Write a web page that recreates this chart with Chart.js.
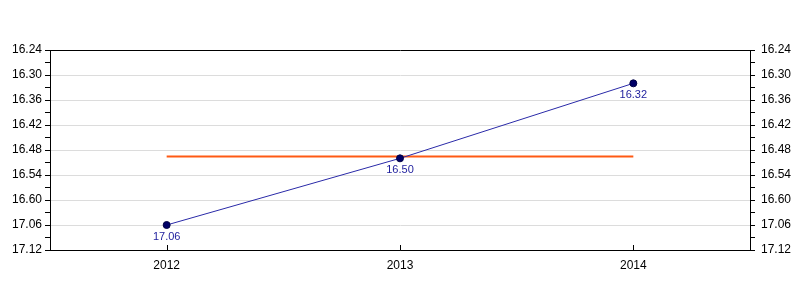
<!DOCTYPE html>
<html><head><meta charset="utf-8">
<script src="https://cdn.jsdelivr.net/npm/chart.js@4/dist/chart.umd.min.js"></script>
<style>html,body{margin:0;padding:0;background:#fff}canvas{display:block}</style>
</head><body>
<canvas id="c" width="800" height="300"></canvas>
<script>
const categories = ['2012', '2013', '2014'];
const seriesValues = [17.06, 16.50, 16.32];   // minutes.seconds
const averageValue = 16.4958;                  // orange reference line
const tickLabels = ['16.24','16.30','16.36','16.42','16.48','16.54','16.60','17.06','17.12'];

// convert minutes.seconds to axis units (index of 6-second ticks from 16.24)
function toSec(v){ const m = Math.floor(v + 1e-9); return m*60 + (v - m)*100; }
const baseSec = toSec(16.24);
function toAxis(v){ return (toSec(v) - baseSec) / 6; }

const FONT = {family: 'Arial, "Liberation Sans", sans-serif', size: 12};

const labelPlugin = {
  id: 'lbl',
  afterDatasetsDraw(chart){
    const ctx = chart.ctx;
    const meta = chart.getDatasetMeta(0);
    ctx.save();
    ctx.font = '11px Arial, "Liberation Sans", sans-serif';
    ctx.fillStyle = '#1c1c9c';
    ctx.textAlign = 'center';
    ctx.textBaseline = 'top';
    meta.data.forEach((p,i)=>{
      ctx.fillText(seriesValues[i].toFixed(2), p.x, p.y + 6);
    });
    // inward x ticks
    const xs = chart.scales.x, a = chart.chartArea;
    ctx.strokeStyle = '#000'; ctx.lineWidth = 1;
    categories.forEach((c,i)=>{
      const x = Math.round(xs.getPixelForValue(i)) + 0.5;
      ctx.beginPath(); ctx.moveTo(x, a.bottom - 5); ctx.lineTo(x, a.bottom); ctx.stroke();
    });
    ctx.restore();
  }
};

function yAxis(pos, pad){
  return {
    position: pos,
    reverse: true,
    min: 0, max: tickLabels.length - 1,
    afterFit(s){ s.width = 50; },
    border: {display: true, color: '#000', width: 1},
    grid: {
      drawOnChartArea: pos === 'left',
      color: c => (c.tick && Number.isInteger(c.tick.value)) ? ((c.tick.value === 0 || c.tick.value === tickLabels.length-1) ? '#000' : '#dcdcdc') : 'rgba(0,0,0,0)',
      tickColor: '#000',
      tickLength: 5,
      lineWidth: 1
    },
    ticks: {
      stepSize: 0.5,
      autoSkip: false,
      padding: pad,
      color: '#000',
      font: FONT,
      callback: v => Number.isInteger(v) ? tickLabels[v] : ''
    }
  };
}

new Chart(document.getElementById('c'), {
  type: 'line',
  data: {
    labels: categories,
    datasets: [
      {
        data: seriesValues.map(toAxis),
        borderColor: '#2a2aa8',
        borderWidth: 1,
        pointRadius: 3.5,
        pointBackgroundColor: '#000066',
        pointBorderColor: '#000044',
        pointBorderWidth: 1,
        tension: 0,
        yAxisID: 'y'
      },
      {
        data: categories.map(() => toAxis(averageValue)),
        borderColor: '#ff5a14',
        borderWidth: 2,
        pointRadius: 0,
        tension: 0,
        yAxisID: 'y'
      }
    ]
  },
  options: {
    responsive: false,
    animation: false,
    layout: {padding: {top: 50, left: 0, right: 0, bottom: 0}},
    plugins: {legend: {display: false}, tooltip: {enabled: false}},
    scales: {
      x: {
        offset: true,
        afterFit(s){ s.height = 50; },
        border: {display: true, color: '#000'},
        grid: {display: false, drawTicks: false},
        ticks: {padding: 8, color: '#000', font: FONT}
      },
      y: yAxis('left', 3),
      y2: yAxis('right', 6)
    }
  },
  plugins: [labelPlugin]
});
</script>
</body></html>
